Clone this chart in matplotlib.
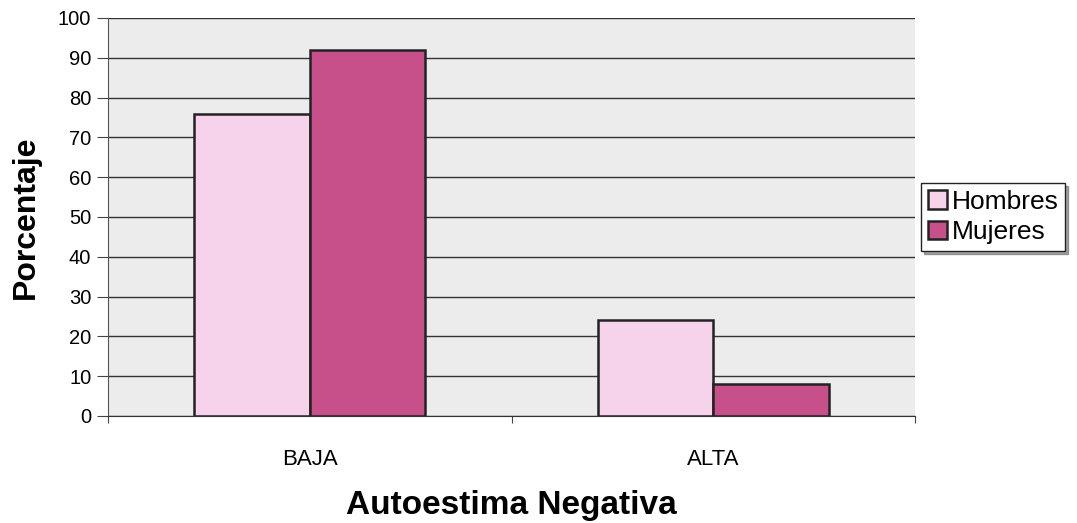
import matplotlib.pyplot as plt
import numpy as np

categorias = ["BAJA", "ALTA"]
hombres = [76, 24]
mujeres = [92, 8]

plt.rcParams['font.family'] = ['Liberation Sans', 'DejaVu Sans']

fig = plt.figure(figsize=(10.77, 5.23), dpi=100)
ax = fig.add_axes([0.1003, 0.2046, 0.7493, 0.761])
ax.set_facecolor("#ececec")

x = np.arange(len(categorias))
w = 0.286
ax.bar(x - w / 2, hombres, w, color="#f6d3ea", edgecolor="#222222", linewidth=1.8, label="Hombres", zorder=3)
ax.bar(x + w / 2, mujeres, w, color="#c8508a", edgecolor="#222222", linewidth=1.8, label="Mujeres", zorder=3)

ax.set_xlim(-0.5, 1.5)
ax.set_ylim(0, 100)
ax.set_yticks(range(0, 101, 10))
ax.yaxis.grid(True, color="#333333", linewidth=1, zorder=0)
ax.set_xticks([-0.5, 0.5, 1.5], minor=False)
ax.set_xticklabels([])
ax.set_xticks(x, minor=True)
ax.set_xticklabels(categorias, minor=True, fontsize=16)
ax.tick_params(axis="x", which="minor", length=0, pad=24)
ax.tick_params(axis="x", which="major", length=5, color="#444444")
ax.tick_params(axis="y", labelsize=14.5, length=8, color="#444444", pad=4)

for s in ["top", "right"]:
    ax.spines[s].set_visible(False)
ax.spines["left"].set_color("#555555")
ax.spines["bottom"].set_color("#333333")

ax.set_ylabel("Porcentaje", fontsize=23, fontweight="bold", labelpad=12)
ax.set_xlabel("Autoestima Negativa", fontsize=24, fontweight="bold", labelpad=14)

leg = ax.legend(loc="center left", bbox_to_anchor=(1.008, 0.5), fontsize=19, frameon=True,
                fancybox=False, shadow=True, edgecolor="#222222", handlelength=0.7,
                handleheight=0.7, handletextpad=0.2, borderpad=0.25, labelspacing=0.25,
                borderaxespad=0)

plt.savefig("out.png", dpi=100)
